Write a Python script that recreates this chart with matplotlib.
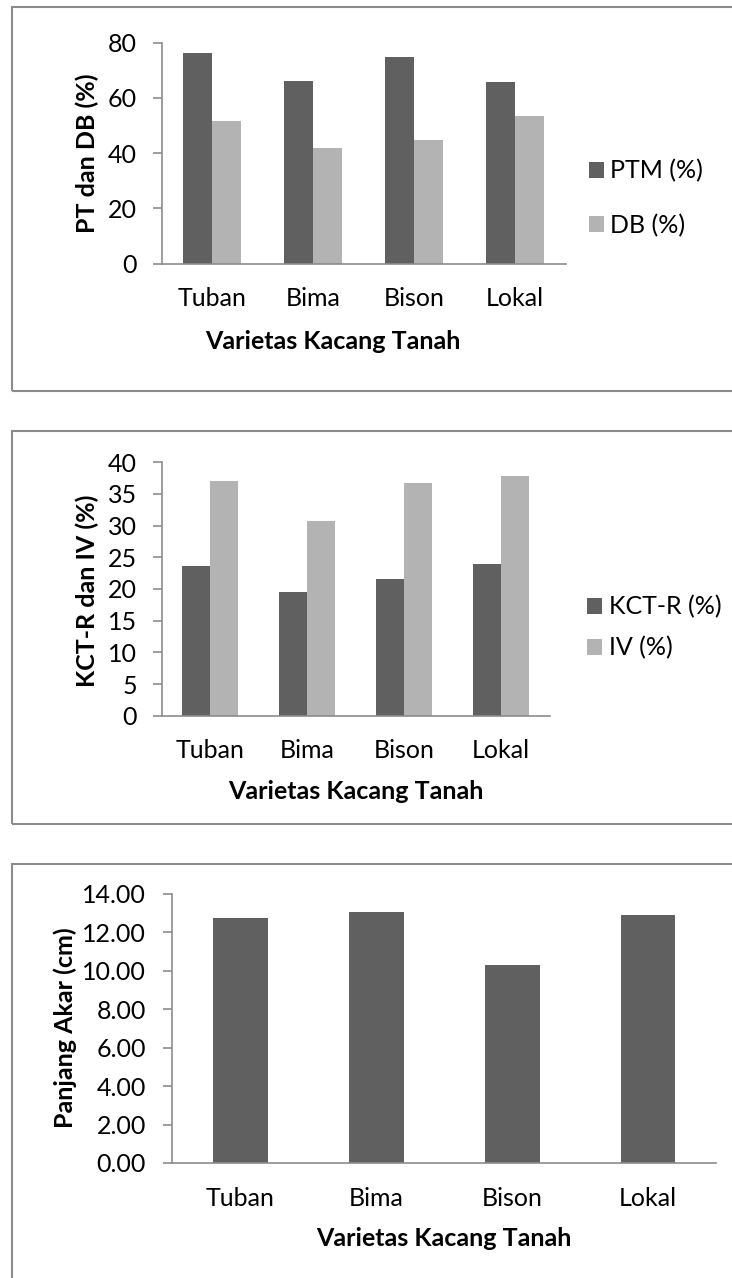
import matplotlib.pyplot as plt
from matplotlib.patches import Rectangle, Patch
from matplotlib.ticker import FormatStrFormatter
import numpy as np

plt.rcParams['font.family'] = ['Lato', 'DejaVu Sans']

# data per varietas kacang tanah
varietas = ['Tuban', 'Bima', 'Bison', 'Lokal']
ptm = [76.3, 66.0, 74.8, 65.7]
db = [51.8, 42.0, 44.7, 53.5]
kct_r = [23.7, 19.6, 21.6, 23.9]
iv = [37.0, 30.7, 36.7, 37.8]
panjang_akar = [12.72, 13.03, 10.28, 12.87]

W, H = 732, 1278
DARK = '#606060'
LIGHT = '#b3b3b3'
LINE = '#8c8c8c'
FS = 18

fig = plt.figure(figsize=(W / 100, H / 100), dpi=100)


def px_axes(left, top, right, bottom):
    return fig.add_axes([left / W, 1 - bottom / H, (right - left) / W, (bottom - top) / H])


def px_to_ax(ax, x, y):
    # pixel position (from top-left of figure) -> axes fraction
    bb = ax.get_position()
    fx, fy = x / W, 1 - y / H
    return (fx - bb.x0) / bb.width, (fy - bb.y0) / bb.height


def frame(top, bottom):
    fig.patches.append(Rectangle((12.3 / W, 1 - bottom / H), 1.0, (bottom - top) / H,
                                 transform=fig.transFigure, fill=False,
                                 edgecolor=LINE, lw=1.5))


def style(ax, ymax, step, fmt, ypad):
    ax.set_xlim(-0.5, len(varietas) - 0.5)
    ax.set_ylim(0, ymax)
    ax.set_yticks(np.arange(0, ymax + step / 2, step))
    ax.yaxis.set_major_formatter(FormatStrFormatter(fmt))
    ax.set_xticks(range(len(varietas)))
    ax.set_xticklabels(varietas)
    for s in ['top', 'right']:
        ax.spines[s].set_visible(False)
    for s in ['left', 'bottom']:
        ax.spines[s].set_color(LINE)
        ax.spines[s].set_linewidth(1.2)
    ax.tick_params(axis='y', length=6.3, width=1.2, color=LINE, labelsize=FS, pad=ypad)
    ax.tick_params(axis='x', length=0, labelsize=FS, pad=17)


def labels(ax, ylabel, ylab_px, xlab_px):
    ax.set_ylabel(ylabel, fontsize=FS, fontweight='bold', va='center')
    ax.yaxis.set_label_coords(*px_to_ax(ax, *ylab_px))
    ax.set_xlabel('Varietas Kacang Tanah', fontsize=FS, fontweight='bold', va='center')
    ax.xaxis.set_label_coords(*px_to_ax(ax, *xlab_px))


def legend(ax, names, colors, anchor_px, spacing):
    handles = [Patch(facecolor=c, edgecolor='none', label=n) for n, c in zip(names, colors)]
    ax.legend(handles=handles, loc='center left',
              bbox_to_anchor=(anchor_px[0] / W, 1 - anchor_px[1] / H),
              bbox_transform=fig.transFigure, frameon=False, fontsize=FS,
              borderpad=0, borderaxespad=0, handlelength=0.6, handleheight=0.6,
              handletextpad=0.25, labelspacing=spacing)


x = np.arange(len(varietas))
bw = 1 / 3.5  # gap width 150%

# panel 1: PTM dan DB
frame(6.7, 390.5)
ax1 = px_axes(161.7, 42.7, 565.7, 263.7)
ax1.bar(x - bw / 2, ptm, bw, color=DARK, linewidth=0)
ax1.bar(x + bw / 2, db, bw, color=LIGHT, linewidth=0)
style(ax1, 80, 20, '%d', 11.7)
labels(ax1, 'PT dan DB (%)', (87, 153.3), (332.5, 341.5))
legend(ax1, ['PTM (%)', 'DB (%)'], [DARK, LIGHT], (589, 198.2), 1.25)

# panel 2: KCT-R dan IV
frame(431, 824.3)
ax2 = px_axes(161.7, 462.3, 549.7, 715.7)
ax2.bar(x - bw / 2, kct_r, bw, color=DARK, linewidth=0)
ax2.bar(x + bw / 2, iv, bw, color=LIGHT, linewidth=0)
style(ax2, 40, 5, '%d', 11.7)
labels(ax2, 'KCT-R dan IV (%)', (87, 590.8), (356, 792))
legend(ax2, ['KCT-R (%)', 'IV (%)'], [DARK, LIGHT], (587.3, 627.5), 0.72)

# panel 3: panjang akar
frame(864.3, 1400)
ax3 = px_axes(172.3, 893.7, 716.3, 1163)
ax3.bar(x, panjang_akar, 0.4, color=DARK, linewidth=0)
style(ax3, 14, 2, '%.2f', 12.7)
labels(ax3, 'Panjang Akar (cm)', (65, 1028), (444.3, 1239))

fig.savefig('out.png', dpi=100)
